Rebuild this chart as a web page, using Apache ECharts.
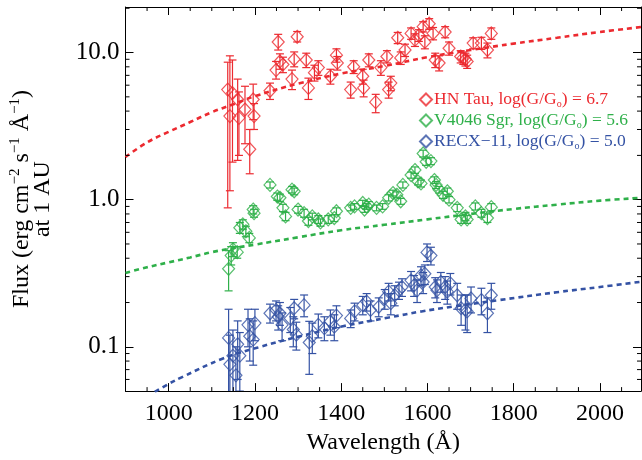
<!DOCTYPE html>
<html>
<head>
<meta charset="utf-8">
<script src="https://cdn.jsdelivr.net/npm/echarts@6/dist/echarts.min.js"></script>
<style>html,body{margin:0;padding:0;background:#fff}#c{width:642px;height:460px}</style>
</head>
<body>
<div id="c"></div>
<script>
// ---- data ----
const hnWave = [1137,1142,1148,1160,1163,1177,1188,1196,1198,1235,1249,1254,1258,1265,1286,1291,1298,1319,1324,1338,1347,1375,1389,1391,1422,1429,1450,1452,1464,1480,1492,1506,1510,1515,1531,1538,1548,1562,1571,1580,1590,1594,1604,1613,1618,1627,1641,1650,1677,1683,1688,1692,1706,1725,1739,1748];
const hnFlux = [5.6,3.7,5.3,4.8,3.6,4.1,2.2,4.8,3.7,5.5,7.6,11.8,8.7,8.3,6.6,9.0,12.8,8.9,5.75,7.3,7.9,6.9,9.6,8.5,5.6,8.0,6.9,5.75,8.9,4.6,7.9,9.4,5.6,6.2,12.6,9.2,10.4,13.5,12.2,13.1,15.0,11.8,15.7,13.5,8.9,8.5,13.8,10.7,9.4,9.2,9.0,8.7,11.6,11.6,10.4,13.5];
const hnLow  = [0.88,1.15,1.8,1.85,2.0,2.4,1.5,3.5,3.0,4.8,6.6,10.4,7.7,7.3,5.6,8.0,11.8,7.9,4.8,6.4,7.0,6.1,8.6,7.6,4.9,7.2,6.1,5.0,8.0,3.9,7.0,8.5,4.9,5.5,11.5,8.3,9.4,12.3,11.0,11.9,13.8,10.6,14.4,12.2,7.9,7.5,12.6,9.6,8.5,8.3,8.1,7.8,10.6,10.5,9.2,12.3];
const hnHigh = [8.6,9.5,8.9,6.6,5.4,5.9,3.0,6.1,4.5,6.2,8.7,13.3,9.8,9.3,7.6,10.1,13.9,9.9,6.7,8.2,8.8,7.7,10.6,9.4,6.3,8.8,7.7,6.5,9.8,5.2,8.8,10.3,6.3,6.9,13.7,10.1,11.4,14.7,13.4,14.3,16.2,13.0,17.0,14.8,9.9,9.5,15.0,11.8,10.3,10.1,9.9,9.6,12.6,12.7,11.6,14.7];

const v4Wave = [1139,1145,1149,1159,1165,1172,1179,1187,1196,1198,1235,1252,1258,1265,1271,1286,1291,1300,1314,1324,1333,1347,1352,1370,1384,1389,1422,1431,1450,1454,1459,1464,1482,1496,1510,1520,1529,1538,1543,1562,1571,1578,1585,1590,1597,1608,1616,1620,1627,1636,1646,1650,1669,1678,1688,1692,1711,1725,1739,1748];
const v4Flux = [0.339,0.417,0.46,0.44,0.645,0.68,0.61,0.55,0.857,0.81,1.26,1.05,1.03,0.88,0.77,1.17,1.14,0.857,0.81,0.716,0.77,0.734,0.70,0.734,0.75,0.835,0.88,0.90,0.95,0.857,0.90,0.925,0.88,0.90,1.03,1.11,1.08,0.975,1.26,1.47,1.59,1.33,1.29,2.06,1.81,1.83,1.36,1.26,1.17,1.08,1.14,1.0,0.88,0.734,0.77,0.734,0.90,0.81,0.75,0.89];
const v4Low  = [0.24,0.36,0.41,0.40,0.59,0.63,0.56,0.51,0.80,0.76,1.20,0.99,0.97,0.83,0.72,1.11,1.08,0.81,0.76,0.67,0.73,0.69,0.66,0.69,0.71,0.79,0.84,0.86,0.91,0.82,0.86,0.88,0.84,0.86,0.98,1.06,1.03,0.93,1.20,1.40,1.51,1.26,1.22,1.95,1.71,1.73,1.29,1.19,1.11,1.02,1.08,0.95,0.83,0.69,0.72,0.69,0.85,0.76,0.70,0.84];
const v4High = [0.45,0.48,0.51,0.48,0.70,0.73,0.66,0.59,0.91,0.86,1.32,1.11,1.09,0.93,0.82,1.23,1.20,0.90,0.86,0.76,0.81,0.78,0.74,0.78,0.79,0.88,0.92,0.94,0.99,0.90,0.94,0.97,0.92,0.94,1.08,1.16,1.13,1.02,1.32,1.54,1.67,1.40,1.36,2.17,1.91,1.93,1.43,1.33,1.23,1.14,1.20,1.05,0.93,0.78,0.82,0.78,0.95,0.86,0.80,0.94];

const rxWave = [1139,1142,1149,1156,1160,1165,1184,1188,1196,1200,1235,1249,1254,1258,1263,1282,1289,1291,1296,1314,1326,1333,1347,1361,1375,1384,1389,1422,1431,1450,1459,1468,1487,1501,1510,1515,1524,1534,1541,1562,1569,1576,1585,1590,1594,1599,1608,1618,1622,1631,1641,1646,1653,1669,1678,1688,1692,1701,1725,1739,1748];
const rxFlux = [0.115,0.076,0.087,0.064,0.104,0.087,0.141,0.118,0.112,0.145,0.169,0.178,0.16,0.169,0.141,0.156,0.131,0.183,0.121,0.192,0.107,0.118,0.141,0.134,0.149,0.137,0.163,0.156,0.174,0.192,0.203,0.178,0.187,0.213,0.237,0.198,0.224,0.242,0.255,0.283,0.262,0.242,0.306,0.276,0.314,0.438,0.417,0.255,0.242,0.276,0.255,0.237,0.27,0.224,0.183,0.178,0.174,0.213,0.208,0.169,0.224];
const rxLow  = [0.03,0.03,0.04,0.03,0.06,0.05,0.10,0.08,0.075,0.11,0.145,0.15,0.13,0.14,0.11,0.125,0.10,0.155,0.095,0.16,0.065,0.09,0.115,0.11,0.12,0.11,0.135,0.135,0.15,0.165,0.175,0.15,0.16,0.18,0.205,0.165,0.19,0.21,0.22,0.24,0.22,0.20,0.26,0.23,0.265,0.38,0.36,0.215,0.20,0.235,0.21,0.195,0.225,0.18,0.14,0.13,0.125,0.17,0.165,0.125,0.18];
const rxHigh = [0.18,0.12,0.13,0.10,0.15,0.125,0.18,0.155,0.15,0.18,0.195,0.205,0.19,0.20,0.17,0.185,0.16,0.21,0.147,0.225,0.149,0.145,0.167,0.16,0.178,0.165,0.19,0.178,0.198,0.22,0.23,0.205,0.215,0.245,0.27,0.23,0.26,0.275,0.29,0.325,0.305,0.285,0.35,0.32,0.36,0.50,0.475,0.295,0.285,0.32,0.30,0.28,0.315,0.27,0.225,0.225,0.225,0.255,0.25,0.215,0.27];

// model curves (dashed)
const modelWave   = [900,950,1000,1050,1100,1150,1200,1300,1400,1500,1600,1700,1800,1900,2000,2095];
const hnModel     = [1.95,2.45,2.89,3.37,3.93,4.45,5.05,6.15,7.2,8.1,9.3,10.4,11.5,12.6,13.8,14.9];
const v4Model     = [0.318,0.347,0.375,0.405,0.44,0.468,0.495,0.555,0.62,0.675,0.735,0.80,0.865,0.925,0.985,1.03];
const rxModelWave = [950,1000,1030,1123,1207,1305,1404,1510,1586,1661,1767,1900,2000,2095];
const rxModel     = [0.046,0.056,0.062,0.0826,0.099,0.118,0.138,0.158,0.174,0.188,0.208,0.235,0.255,0.277];

const xLabelTicks = [1000,1200,1400,1600,1800,2000];
const xMinorTicks = [900,950,1050,1100,1150,1250,1300,1350,1450,1500,1550,1650,1700,1750,1850,1900,1950,2050];
const yMinorTicks = [0.06,0.07,0.08,0.09,0.2,0.3,0.4,0.5,0.6,0.7,0.8,0.9,2,3,4,5,6,7,8,9,20];

const names = ['HN Tau, log(G/Go) = 6.7','V4046 Sgr, log(G/Go) = 5.6','RECX\u221211, log(G/Go) = 5.0'];
const legendRich = {};
legendRich[names[0]] = '{a|HN Tau, log(G/G}{s|o}{a|) = 6.7}';
legendRich[names[1]] = '{a|V4046 Sgr, log(G/G}{s|o}{a|) = 5.6}';
legendRich[names[2]] = '{a|RECX\u221211, log(G/G}{s|o}{a|) = 5.0}';

const RED = '#ec2a30', GREEN = '#2fb04a', BLUE = '#3452a4';
const FONT = 'Liberation Serif';
const XMIN = 900, XMAX = 2095, YMIN = 0.05, YMAX = 20.4;

function zip2(a, b) { return a.map((v, i) => [v, b[i]]); }
function zip3(a, b, c) { return a.map((v, i) => [v, b[i], c[i]]); }

function errSeries(wave, lo, hi, color) {
  return {
    type: 'custom', clip: true, silent: true,
    data: zip3(wave, lo, hi),
    encode: { x: 0, y: [1, 2] },
    renderItem: function (params, api) {
      const x = api.value(0);
      const p1 = api.coord([x, api.value(1)]);
      const p2 = api.coord([x, api.value(2)]);
      const w = 4;
      const st = { stroke: color, lineWidth: 1.2 };
      return { type: 'group', children: [
        { type: 'line', shape: { x1: p1[0], y1: p1[1], x2: p2[0], y2: p2[1] }, style: st },
        { type: 'line', shape: { x1: p1[0] - w, y1: p1[1], x2: p1[0] + w, y2: p1[1] }, style: st },
        { type: 'line', shape: { x1: p2[0] - w, y1: p2[1], x2: p2[0] + w, y2: p2[1] }, style: st }
      ]};
    }
  };
}
function pointSeries(name, wave, flux, color) {
  return {
    name: name, type: 'scatter', symbol: 'diamond', symbolSize: [12, 13],
    data: zip2(wave, flux),
    itemStyle: { color: 'rgba(0,0,0,0)', borderColor: color, borderWidth: 1.2 },
    emphasis: { disabled: true }
  };
}
function modelSeries(wave, vals, color) {
  return {
    type: 'line', data: zip2(wave, vals), smooth: 0.4, symbol: 'none', silent: true,
    lineStyle: { color: color, width: 2.6, type: [5, 4] }, z: 1
  };
}

const chart = echarts.init(document.getElementById('c'), null, { renderer: 'canvas' });

const axisLineStyle = { lineStyle: { color: '#000', width: 1 } };
const option = {
  animation: false,
  backgroundColor: '#fff',
  grid: { left: 115, right: 1, top: 7, bottom: 64 },
  legend: {
    orient: 'vertical', left: 414, top: 85,
    itemWidth: 12, itemHeight: 12, itemGap: 2, icon: 'diamond',
    data: [
      { name: names[0], textStyle: { color: RED } },
      { name: names[1], textStyle: { color: GREEN } },
      { name: names[2], textStyle: { color: BLUE } }
    ],
    formatter: function (n) { return legendRich[n]; },
    textStyle: {
      fontFamily: FONT, fontSize: 17.5, padding: [0, 0, 0, -3],
      rich: {
        a: { fontFamily: FONT, fontSize: 17.5, lineHeight: 18 },
        s: { fontFamily: FONT, fontSize: 10, lineHeight: 18, padding: [9, 0, 0, 0] }
      }
    }
  },
  xAxis: [
    {
      type: 'value', min: XMIN, max: XMAX, position: 'bottom',
      axisLine: axisLineStyle,
      axisTick: { inside: true, length: 8, customValues: xLabelTicks, lineStyle: { color: '#000' } },
      axisLabel: { customValues: xLabelTicks, margin: 11, color: '#000', fontFamily: FONT, fontSize: 24,
        formatter: function (v) { return String(v); } },
      splitLine: { show: false },
      name: 'Wavelength (\u00c5)', nameLocation: 'middle', nameGap: 35,
      nameTextStyle: { color: '#000', fontFamily: FONT, fontSize: 24 }
    },
    {
      type: 'value', min: XMIN, max: XMAX, position: 'top',
      axisLine: axisLineStyle,
      axisTick: { inside: true, length: 8, customValues: xLabelTicks, lineStyle: { color: '#000' } },
      axisLabel: { show: false }, splitLine: { show: false }
    }
  ],
  yAxis: [
    {
      type: 'log', logBase: 10, min: YMIN, max: YMAX, position: 'left',
      axisLine: axisLineStyle,
      axisTick: { inside: true, length: 8, lineStyle: { color: '#000' } },
      axisLabel: {
        margin: 6, color: '#000', fontFamily: FONT, fontSize: 25,
        showMinLabel: false, showMaxLabel: false,
        formatter: function (v) {
          const l = Math.log10(v);
          if (Math.abs(l - Math.round(l)) > 1e-6) return '';
          return v.toFixed(1);
        }
      },
      splitLine: { show: false },
      name: '{a|Flux (erg cm}{p|\u22122}{a| s}{p|\u22121}{a| \u00c5}{p|\u22121}{a|)}\n{a|at 1 AU}',
      nameLocation: 'middle', nameGap: 72, nameRotate: 90,
      nameTextStyle: {
        color: '#000', fontFamily: FONT, fontSize: 24, lineHeight: 21,
        rich: {
          a: { fontFamily: FONT, fontSize: 24, lineHeight: 21, color: '#000' },
          p: { fontFamily: FONT, fontSize: 15, lineHeight: 21, padding: [0, 0, 13, 0], color: '#000' }
        }
      }
    },
    {
      type: 'log', logBase: 10, min: YMIN, max: YMAX, position: 'right',
      axisLine: axisLineStyle,
      axisTick: { inside: true, length: 8, lineStyle: { color: '#000' } },
      axisLabel: { show: false }, splitLine: { show: false }
    }
  ],
  series: [
    modelSeries(modelWave, hnModel, RED),
    modelSeries(modelWave, v4Model, GREEN),
    modelSeries(rxModelWave, rxModel, BLUE),
    errSeries(hnWave, hnLow, hnHigh, RED),
    errSeries(v4Wave, v4Low, v4High, GREEN),
    errSeries(rxWave, rxLow, rxHigh, BLUE),
    pointSeries(names[0], hnWave, hnFlux, RED),
    pointSeries(names[1], v4Wave, v4Flux, GREEN),
    pointSeries(names[2], rxWave, rxFlux, BLUE),
    {
      type: 'custom', silent: true, clip: false,
      data: yMinorTicks.map(v => [XMIN, v]),
      encode: { x: 0, y: 1 },
      renderItem: function (params, api) {
        const cs = params.coordSys;
        const y = api.coord([XMIN, api.value(1)])[1];
        const st = { stroke: '#000', lineWidth: 1 };
        return { type: 'group', children: [
          { type: 'line', shape: { x1: cs.x, y1: y, x2: cs.x + 4, y2: y }, style: st },
          { type: 'line', shape: { x1: cs.x + cs.width, y1: y, x2: cs.x + cs.width - 4, y2: y }, style: st }
        ]};
      }
    },
    {
      type: 'custom', silent: true, clip: false,
      data: xMinorTicks.map(v => [v, 1]),
      encode: { x: 0, y: 1 },
      renderItem: function (params, api) {
        const cs = params.coordSys;
        const x = api.coord([api.value(0), 1])[0];
        const st = { stroke: '#000', lineWidth: 1 };
        return { type: 'group', children: [
          { type: 'line', shape: { x1: x, y1: cs.y + cs.height, x2: x, y2: cs.y + cs.height - 4 }, style: st },
          { type: 'line', shape: { x1: x, y1: cs.y, x2: x, y2: cs.y + 4 }, style: st }
        ]};
      }
    }
  ]
};
chart.setOption(option);
</script>
</body>
</html>
